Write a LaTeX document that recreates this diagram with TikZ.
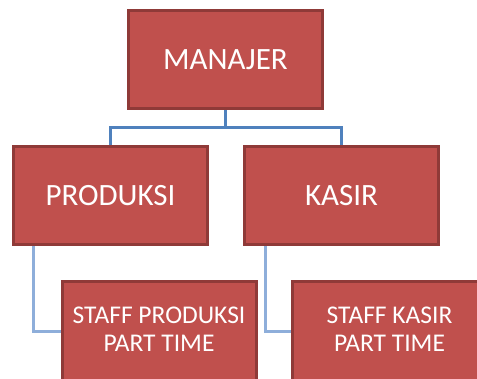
\documentclass[tikz,border=0pt]{standalone}
\usepackage{fontspec}
\setmainfont{Carlito}
\usepackage{tikz}
\usetikzlibrary{positioning,calc,backgrounds}
\definecolor{boxred}{HTML}{C0504D}
\definecolor{boxline}{HTML}{8F3A38}
\definecolor{linkblue}{HTML}{4F81BD}
\definecolor{linklight}{HTML}{8EAEDA}

\begin{document}
\begin{tikzpicture}[x=1pt,y=-1pt,
	box/.style={rectangle,draw=boxline,fill=boxred,line width=3pt,
		minimum width=194pt,minimum height=98pt,text=white,align=center,
		font=\fontsize{31}{36}\selectfont},
	staffbox/.style={box,minimum height=104pt,font=\fontsize{25.5}{28}\selectfont},
	link/.style={draw=linkblue,line width=3pt},
	sublink/.style={draw=linklight,line width=3pt}]
	\useasboundingbox (0,0) rectangle (477,378);
	\node[box] (manajer) at (225.5,59.5) {MANAJER};
	\node[box] (produksi) at (110.5,195.5) {PRODUKSI};
	\node[box] (kasir) at (341.5,195.5) {KASIR};
	\node[staffbox] (staffprod) at (159,333.5) {STAFF PRODUKSI\\PART TIME\\[-20pt]};
	\node[staffbox] (staffkasir) at (389.5,333.5) {STAFF KASIR\\PART TIME\\[-20pt]};
	\begin{pgfonlayer}{background}
	\draw[link] (manajer.south) -- ++(0,17) -| (produksi.north);
	\draw[link] (manajer.south) -- ++(0,17) -| (kasir.north);
	\draw[sublink] ($(produksi.south west)+(21,0)$) |- ($(staffprod.west)+(0,-2.5)$);
	\draw[sublink] ($(kasir.south west)+(22,0)$) |- ($(staffkasir.west)+(0,-2.5)$);
	\end{pgfonlayer}
\end{tikzpicture}
\end{document}
